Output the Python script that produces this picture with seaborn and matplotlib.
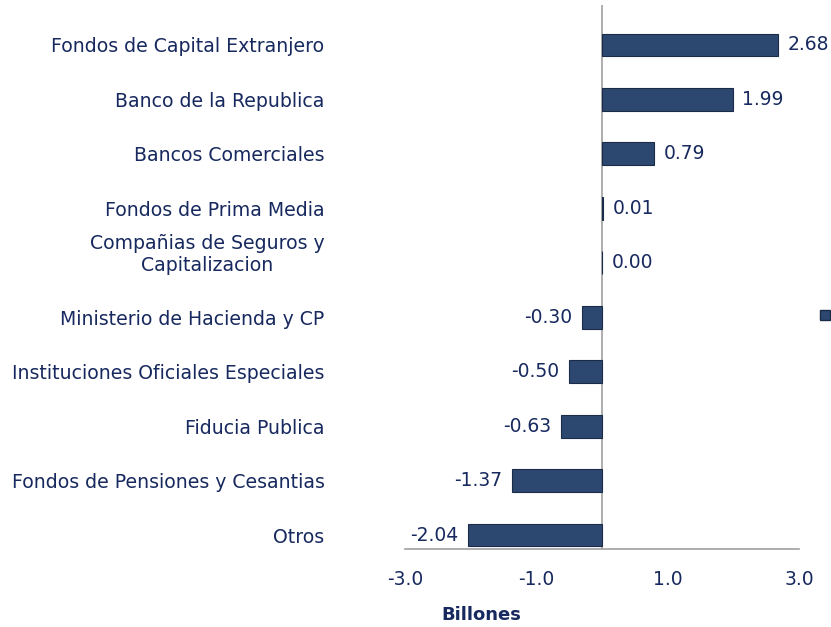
import pandas as pd
import matplotlib.pyplot as plt
import matplotlib.transforms as mtransforms
import seaborn as sns
from matplotlib.patches import Patch

# Datos del grafico
categorias = [
    "Fondos de Capital Extranjero",
    "Banco de la Republica",
    "Bancos Comerciales",
    "Fondos de Prima Media",
    "Compañias de Seguros y\nCapitalizacion",
    "Ministerio de Hacienda y CP",
    "Instituciones Oficiales Especiales",
    "Fiducia Publica",
    "Fondos de Pensiones y Cesantias",
    "Otros",
]
valores = [2.68, 1.99, 0.79, 0.01, 0.00, -0.30, -0.50, -0.63, -1.37, -2.04]
ticks_x = [-3.0, -1.0, 1.0, 3.0]

df = pd.DataFrame({"categoria": categorias, "valor": valores})

texto = "#17295E"
barra = "#2C4770"

sns.set_style("white")
plt.rcParams["font.family"] = ["DejaVu Sans"]

fig = plt.figure(figsize=(8.31, 6.27), dpi=100)
ax = fig.add_axes([0.4874, 0.1244, 0.4741, 0.8676])

sns.barplot(data=df, x="valor", y="categoria", orient="h", color=barra,
            width=0.42, edgecolor="#1A2C47", linewidth=0.8, saturation=1, ax=ax)

ax.bar_label(ax.containers[0], fmt="%.2f", padding=7, fontsize=13.5, color=texto)

ax.axvline(0, color="#A0A0A0", linewidth=1.2, zorder=0)

ax.set_xlim(-3, 3)
ax.set_ylim(9.257, -0.734)
ax.set_xticks(ticks_x)
ax.set_xticklabels([f"{t:.1f}" for t in ticks_x], fontsize=13.5, color=texto)
ax.tick_params(axis="x", direction="out", length=7, color="#A0A0A0", width=1.2, pad=8)
ax.tick_params(axis="y", length=0, pad=58)
for lbl in ax.get_yticklabels():
    lbl.set_fontsize(13.6)
    lbl.set_color(texto)
    lbl.set_multialignment("center")
    if "\n" in lbl.get_text():
        # la etiqueta de dos lineas va un poco mas arriba, como en el original
        lbl.set_transform(lbl.get_transform() +
                          mtransforms.ScaledTranslation(0, 0.12, fig.dpi_scale_trans))

for s in ["left", "top", "right"]:
    ax.spines[s].set_visible(False)
ax.spines["bottom"].set_color("#A0A0A0")
ax.spines["bottom"].set_linewidth(1.2)

ax.set_ylabel("")
ax.set_xlabel("Billones", fontsize=13, fontweight="bold", color=texto)
ax.xaxis.set_label_coords(0.193, -0.105)

fig.legend(handles=[Patch(facecolor=barra, edgecolor="#1A2C47")], labels=[""],
           loc="center", bbox_to_anchor=(0.993, 0.496), frameon=False,
           handlelength=0.7, handleheight=0.7, handletextpad=0, borderpad=0)

fig.savefig("out.png", dpi=100)
